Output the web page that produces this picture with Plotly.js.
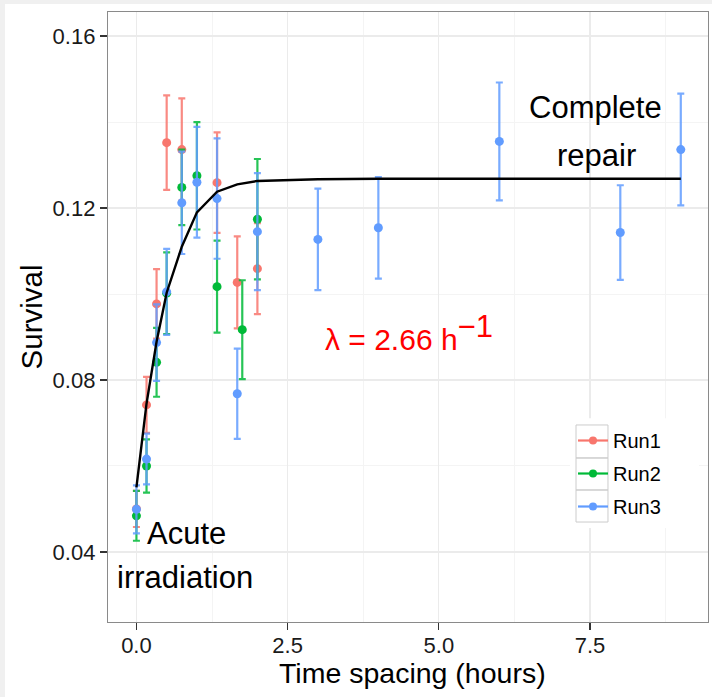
<!DOCTYPE html>
<html>
<head>
<meta charset="utf-8">
<script src="https://cdn.plot.ly/plotly-3.0.1.min.js"></script>
<style>
  html, body { margin: 0; padding: 0; background: #ffffff; }
  #chart { width: 712px; height: 697px; }
</style>
</head>
<body>
<div id="chart"></div>
<script>
// Survival after split-dose irradiation, three experimental runs
const run1Time = [0, 0.167, 0.333, 0.5, 0.75, 1.333, 1.667, 2.0];
const run1Surv = [0.0500, 0.0742, 0.0977, 0.1352, 0.1336, 0.1259, 0.1027, 0.1059];
const run1Err  = [0.0042, 0.0065, 0.0081, 0.0110, 0.0119, 0.0117, 0.0107, 0.0106];

const run2Time = [0, 0.167, 0.333, 0.5, 0.75, 1.0, 1.333, 1.75, 2.0];
const run2Surv = [0.0484, 0.0600, 0.0841, 0.1002, 0.1248, 0.1275, 0.1017, 0.0917, 0.1174];
const run2Err  = [0.0058, 0.0062, 0.0080, 0.0095, 0.0088, 0.0125, 0.0107, 0.0115, 0.0140];

const run3Time = [0, 0.167, 0.333, 0.5, 0.75, 1.0, 1.333, 1.667, 2.0, 3, 4, 6, 8, 9];
const run3Surv = [0.0499, 0.0616, 0.0887, 0.1005, 0.1212, 0.1260, 0.1222, 0.0768, 0.1145, 0.1127, 0.1154, 0.1355, 0.1143, 0.1336];
const run3Err  = [0.0056, 0.0059, 0.0089, 0.0100, 0.0119, 0.0129, 0.0140, 0.0105, 0.0136, 0.0118, 0.0118, 0.0137, 0.0110, 0.0130];

// Fitted repair curve (lambda = 2.66 per hour)
const fitTime = [0, 0.167, 0.333, 0.5, 0.75, 1.0, 1.333, 1.667, 2.0, 3, 4, 6, 8, 9];
const fitSurv = [0.0550, 0.0745, 0.0889, 0.1003, 0.1110, 0.1190, 0.1238, 0.1255, 0.1263, 0.1267, 0.1268, 0.1268, 0.1268, 0.1268];

const runNames = ["Run1", "Run2", "Run3"];
const runColors = ["#F8766D", "#00BA38", "#619CFF"];
const xTicks = [0, 2.5, 5, 7.5];
const xTickText = ["0.0", "2.5", "5.0", "7.5"];
const yTicks = [0.04, 0.08, 0.12, 0.16];
const yTickText = ["0.04", "0.08", "0.12", "0.16"];

const runs = [
  [run1Time, run1Surv, run1Err],
  [run2Time, run2Surv, run2Err],
  [run3Time, run3Surv, run3Err]
];

function fade(hex, a) {
  const n = parseInt(hex.slice(1), 16);
  return `rgba(${(n >> 16) & 255},${(n >> 8) & 255},${n & 255},${a})`;
}

const traces = [];
runs.forEach(([t, s, e], i) => {
  traces.push({
    type: "scatter", mode: "markers",
    x: t, y: s, name: runNames[i], showlegend: false,
    marker: { color: runColors[i], size: 9 },
    error_y: { type: "data", array: e, visible: true,
               color: fade(runColors[i], 0.85), thickness: 2.2, width: 3.5 }
  });
});

traces.push({
  type: "scatter", mode: "lines",
  x: fitTime, y: fitSurv, showlegend: false, hoverinfo: "skip",
  line: { color: "#000000", width: 2.4 }
});

// legend keys: point with a short line, as in a pointrange glyph
runNames.forEach((nm, i) => {
  traces.push({
    type: "scatter", mode: "lines+markers",
    x: [null], y: [null], name: nm, showlegend: true, legendgroup: nm,
    marker: { color: runColors[i], size: 8 },
    line: { color: runColors[i], width: 2.2 }
  });
});

const fam = "Liberation Sans, Arial, sans-serif";
const textFont = { family: fam, color: "#000000" };

// legend panel: white backing and one grey-outlined box per key
const keyEdges = [0.3230, 0.2689, 0.2164, 0.1639];
const panelShapes = [
  { type: "rect", xref: "paper", yref: "paper", x0: 0.77, x1: 0.985, y0: 0.154, y1: 0.334,
    fillcolor: "#ffffff", line: { width: 0 }, layer: "above" },
  // light grey frame strips along the top and left edges of the figure
  { type: "rect", xref: "paper", yref: "paper", x0: -0.18, x1: 1.0067, y0: 1.0131, y1: 1.0197,
    fillcolor: "#F0F0F0", line: { width: 0 }, layer: "below" },
  { type: "rect", xref: "paper", yref: "paper", x0: -0.18, x1: -0.1717, y0: -0.123, y1: 1.0197,
    fillcolor: "#F0F0F0", line: { width: 0 }, layer: "below" }
];
for (let k = 0; k < 3; k++) {
  panelShapes.push({
    type: "rect", xref: "paper", yref: "paper", x0: 0.78, x1: 0.8333,
    y0: keyEdges[k + 1], y1: keyEdges[k],
    fillcolor: "rgba(0,0,0,0)", line: { color: "#CCCCCC", width: 1 }, layer: "above"
  });
}

const layout = {
  width: 712, height: 697,
  margin: { l: 108, r: 4, t: 12, b: 75 },
  paper_bgcolor: "#ffffff",
  plot_bgcolor: "#ffffff",
  font: textFont,
  showlegend: true,
  legend: {
    x: 0.775, y: 0.3295, xanchor: "left", yanchor: "top",
    bgcolor: "rgba(0,0,0,0)", borderwidth: 0,
    font: { family: fam, size: 20, color: "#000000" },
    traceorder: "grouped", tracegroupgap: 4
  },
  shapes: panelShapes,
  xaxis: {
    range: [-0.47, 9.45],
    tickvals: xTicks, ticktext: xTickText,
    ticks: "outside", ticklen: 7, tickwidth: 1.2, tickcolor: "#333333",
    ticklabelstandoff: -4,
    tickfont: { family: fam, size: 22, color: "#1a1a1a" },
    showgrid: true, gridcolor: "#EBEBEB", gridwidth: 1.2,
    minor: { tickvals: [1.25, 3.75, 6.25, 8.75], showgrid: true, gridcolor: "#F4F4F4", gridwidth: 1 },
    zeroline: false,
    showline: true, mirror: true, linecolor: "#8a8a8a", linewidth: 1.2
  },
  yaxis: {
    range: [0.0237, 0.1656],
    tickvals: yTicks, ticktext: yTickText,
    ticks: "outside", ticklen: 7, tickwidth: 1.2, tickcolor: "#333333",
    tickfont: { family: fam, size: 22, color: "#1a1a1a" },
    showgrid: true, gridcolor: "#EBEBEB", gridwidth: 1.2,
    minor: { tickvals: [0.06, 0.10, 0.14], showgrid: true, gridcolor: "#F4F4F4", gridwidth: 1 },
    zeroline: false,
    showline: true, mirror: true, linecolor: "#8a8a8a", linewidth: 1.2,
    title: { text: "Survival", font: { family: fam, size: 29.5, color: "#000000" }, standoff: 1 }
  },
  annotations: [
    // x-axis title, set a little closer to the tick labels than the axis title allows
    { x: 0.508, y: -0.0835, xref: "paper", yref: "paper", yanchor: "middle",
      text: "Time spacing (hours)", showarrow: false,
      font: { family: fam, size: 28.5, color: "#000000" } },
    { x: 7.59, y: 0.1433, xref: "x", yref: "y", text: "Complete", showarrow: false,
      font: { family: fam, size: 31, color: "#000000" } },
    { x: 7.61, y: 0.1323, xref: "x", yref: "y", text: "repair", showarrow: false,
      font: { family: fam, size: 31, color: "#000000" } },
    { x: 0.82, y: 0.0444, xref: "x", yref: "y", text: "Acute", showarrow: false,
      font: { family: fam, size: 31, color: "#000000" } },
    { x: 0.80, y: 0.0340, xref: "x", yref: "y", text: "irradiation", showarrow: false,
      font: { family: fam, size: 31, color: "#000000" } },
    { x: 4.50, y: 0.0910, xref: "x", yref: "y",
      text: "λ = 2.66 h<sup><span style='font-size:31px'>−1</span></sup>", showarrow: false,
      font: { family: fam, size: 30, color: "#FF0000" } }
  ]
};

Plotly.newPlot("chart", traces, layout, { displayModeBar: false, staticPlot: true });
</script>
</body>
</html>
